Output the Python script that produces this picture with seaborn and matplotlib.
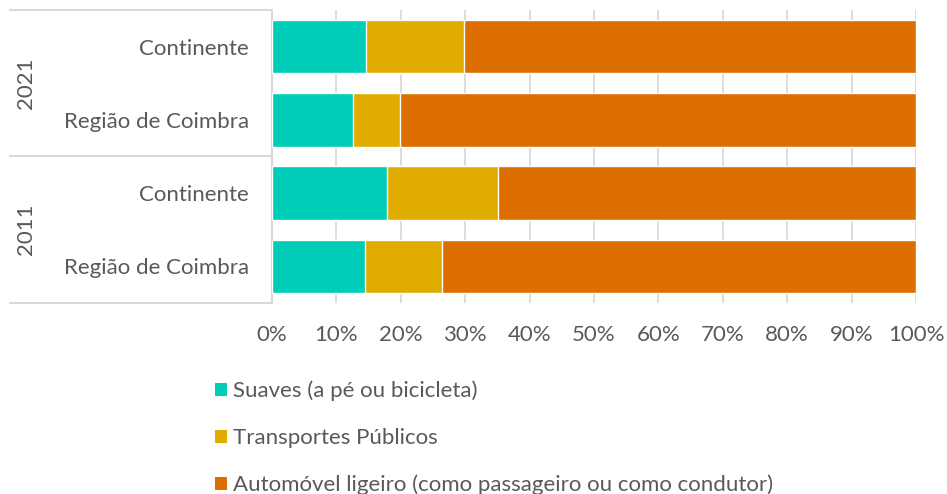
import matplotlib
matplotlib.use("Agg")
import matplotlib.pyplot as plt
from matplotlib.patches import Patch
from matplotlib.lines import Line2D
import seaborn as sns
import pandas as pd
import numpy as np

# Modal split of commuting trips (%), by census year and territory
years = ["2021", "2021", "2011", "2011"]
territories = ["Continente", "Região de Coimbra", "Continente", "Região de Coimbra"]
suaves = [14.6, 12.5, 17.9, 14.5]
transportes = [15.2, 7.4, 17.2, 11.9]
automovel = [70.2, 80.1, 64.9, 73.6]
series_names = ["Suaves (a pé ou bicicleta)", "Transportes Públicos",
                "Automóvel ligeiro (como passageiro ou como condutor)"]
x_ticks = [0, 10, 20, 30, 40, 50, 60, 70, 80, 90, 100]
x_tick_labels = [f"{t}%" for t in x_ticks]

colors = ["#00CDB8", "#E1AC00", "#DC6F00"]
text_color = "#595959"
line_color = "#D9D9D9"
fs = 16

sns.set_theme(style="white")
plt.rcParams["font.family"] = ["Lato", "DejaVu Sans"]

keys = [f"{y}|{t}" for y, t in zip(years, territories)]
df = pd.DataFrame({"key": keys, "s": suaves, "t": transportes, "a": automovel})
df["c1"] = df["s"]
df["c2"] = df["s"] + df["t"]
df["c3"] = df["s"] + df["t"] + df["a"]

fig = plt.figure(figsize=(9.47, 4.94), dpi=100)
ax = fig.add_axes([272 / 947, 1 - 303 / 494, (916 - 272) / 947, (303 - 10) / 494])

# stacked bars: draw cumulative totals from the outermost segment inwards
for col, color in zip(["c3", "c2", "c1"], colors[::-1]):
    sns.barplot(data=df, x=col, y="key", orient="h", color=color, width=0.73,
                saturation=1, ax=ax, order=keys, zorder=3)

ax.set_xlim(0, 100)
ax.set_xticks(x_ticks)
ax.set_xticklabels(x_tick_labels, fontsize=fs, color=text_color)
ax.set_yticks(range(len(keys)))
ax.set_yticklabels(territories, fontsize=fs, color=text_color)
ax.tick_params(axis="x", length=0, pad=16)
ax.tick_params(axis="y", length=0, pad=16.5)
ax.set_xlabel("")
ax.set_ylabel("")
ax.grid(axis="x", color=line_color, linewidth=1.3, zorder=0)
ax.set_axisbelow(True)
for side in ["top", "right", "bottom"]:
    ax.spines[side].set_visible(False)
ax.spines["left"].set_color(line_color)
ax.spines["left"].set_linewidth(1.5)

# grouped category axis: year labels and separators
fig_w, fig_h = 947, 494
x0, x1 = 10 / fig_w, 272 / fig_w
for ypx in [10, 156, 303]:
    fig.add_artist(Line2D([x0, x1], [1 - ypx / fig_h] * 2, color=line_color,
                          linewidth=1.5, transform=fig.transFigure))
for label, ycen in [("2021", 83), ("2011", 229.5)]:
    fig.text(26 / fig_w, 1 - ycen / fig_h, label, rotation=90, ha="center",
             va="center", fontsize=fs, color=text_color)

handles = [Patch(facecolor=c, edgecolor="none") for c in colors]
leg = fig.legend(handles, series_names, loc="upper left",
                 bbox_to_anchor=(206 / fig_w, 1 - 372 / fig_h), frameon=False,
                 fontsize=fs, handlelength=0.55, handleheight=0.55,
                 handletextpad=0.25, labelspacing=1.2, borderaxespad=0)
for t in leg.get_texts():
    t.set_color(text_color)

fig.savefig("out.png", dpi=100)
